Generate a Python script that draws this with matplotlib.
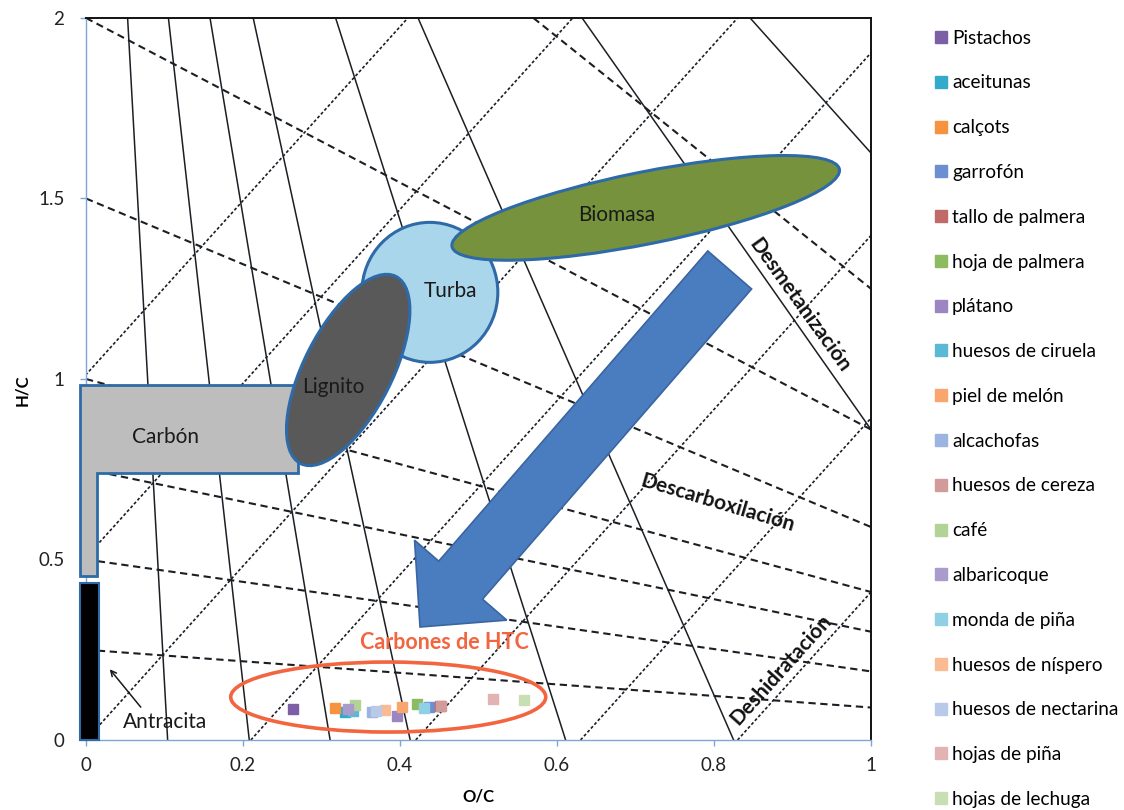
import numpy as np
import matplotlib
matplotlib.use("Agg")
import matplotlib.pyplot as plt
from matplotlib.patches import Polygon, Ellipse, Rectangle
from matplotlib.transforms import IdentityTransform
from matplotlib.lines import Line2D

plt.rcParams['font.family'] = ['Lato', 'DejaVu Sans']

# ---------------- HTC chars: atomic ratios ----------------
samples = ["Pistachos", "aceitunas", "calçots", "garrofón", "tallo de palmera",
           "hoja de palmera", "plátano", "huesos de ciruela", "piel de melón",
           "alcachofas", "huesos de cereza", "café", "albaricoque",
           "monda de piña", "huesos de níspero", "huesos de nectarina",
           "hojas de piña", "hojas de lechuga"]
oc = [0.264, 0.330, 0.317, 0.437, 0.451, 0.422, 0.396, 0.340, 0.403,
      0.364, 0.452, 0.343, 0.334, 0.430, 0.381, 0.370, 0.518, 0.558]
hc = [0.086, 0.078, 0.089, 0.091, 0.094, 0.100, 0.066, 0.080, 0.091,
      0.078, 0.094, 0.097, 0.086, 0.090, 0.083, 0.080, 0.113, 0.111]
colors = ["#7d5fa6", "#33a9cc", "#f7923f", "#6b8fd0", "#c06a6a", "#8dbb5f",
          "#9b86c2", "#5bb9d6", "#f9a56e", "#9db4e0", "#d39a9a", "#b3d296",
          "#a99bcb", "#8fd0e4", "#fbbb92", "#b9c9ea", "#e3b3b3", "#c8dfb3"]

# ---------------- reaction guide lines ----------------
# demethanation lines (solid): O/C at H/C = 2 and at H/C = 0
demeth_top_oc = [0.053, 0.105, 0.158, 0.213, 0.318, 0.423]
demeth_bottom_oc = [0.104, 0.208, 0.311, 0.413, 0.611, 0.825]
# solid lines from the top edge to the right edge
upper_top_oc = [0.632, 0.846]
upper_right_hc = [0.86, 1.626]
# decarboxylation lines (dashed): start point and H/C at O/C = 1
decarb_start = [(0.0, 2.0), (0.0, 1.5), (0.0, 1.0), (0.0, 0.75), (0.0, 0.5), (0.0, 0.25), (0.57, 2.0)]
decarb_end_hc = [0.86, 0.59, 0.41, 0.30, 0.19, 0.09, 1.25]
# dehydration lines (dotted): O/C at H/C = 0 and at H/C = 2
dehyd_bottom_oc = [-0.42, -0.21, 0.0, 0.21, 0.42, 0.63, 0.83]
dehyd_top_oc = [0.41, 0.62, 0.83, 1.04, 1.25, 1.46, 1.66]

# ---------------- fuel regions ----------------
carbon_outline = [(-0.008, 0.983), (0.27, 0.983), (0.27, 0.74), (0.014, 0.74),
                  (0.014, 0.455), (-0.008, 0.455)]
anthracite_oc = (-0.008, 0.016)
anthracite_hc = (0.0, 0.435)
lignite_center = (0.334, 1.025)
peat_center = (0.438, 1.24)
biomass_center = (0.713, 1.474)
htc_center = (0.385, 0.119)
arrow_tail = (0.820, 1.302)
arrow_tip = (0.4255, 0.313)

fig = plt.figure(figsize=(11.24, 8.10), dpi=100)
ax = fig.add_axes([86 / 1124, 1 - 740 / 810, 785 / 1124, 722 / 810])
ax.set_xlim(0, 1)
ax.set_ylim(0, 2)
ax.set_autoscale_on(False)

line_col = "#1b1f24"
for xt, xb in zip(demeth_top_oc, demeth_bottom_oc):
    ax.plot([xt, xb], [2, 0], color=line_col, lw=1.1, zorder=1)
for xt, yr in zip(upper_top_oc, upper_right_hc):
    ax.plot([xt, 1], [2, yr], color=line_col, lw=1.1, zorder=1)
for (x0, y0), y1 in zip(decarb_start, decarb_end_hc):
    ax.plot([x0, 1], [y0, y1], color=line_col, lw=1.5, ls=(0, (3.5, 2.2)), zorder=1)
for xb, xt in zip(dehyd_bottom_oc, dehyd_top_oc):
    ax.plot([xb, xt], [0, 2], color=line_col, lw=1.2, ls=(0, (1.8, 1.3)), zorder=1)

edge_blue = "#2f6aa8"


def disp(pt):
    return ax.transData.transform(pt)


def px_ellipse(center, w, h, angle, **kw):
    e = Ellipse(disp(center), w, h, angle=angle, transform=IdentityTransform(),
                clip_on=False, **kw)
    ax.add_patch(e)
    return e


# Carbón region
ax.add_patch(Polygon(carbon_outline, closed=True, facecolor="#bdbdbd",
                     edgecolor=edge_blue, lw=2.0, zorder=3, clip_on=False))
# Antracita bar
ax.add_patch(Rectangle((anthracite_oc[0], anthracite_hc[0]),
                       anthracite_oc[1] - anthracite_oc[0],
                       anthracite_hc[1] - anthracite_hc[0],
                       facecolor="black", edgecolor=edge_blue, lw=1.5, zorder=3, clip_on=False))

# Turba, Biomasa, Lignito
px_ellipse(peat_center, 136, 140, 0, facecolor="#a9d6ea", edgecolor=edge_blue, lw=2.2, zorder=3)
px_ellipse(biomass_center, 395, 72, 11.3, facecolor="#76923c", edgecolor=edge_blue, lw=2.2, zorder=4)
px_ellipse(lignite_center, 210, 88, 63, facecolor="#595959", edgecolor=edge_blue, lw=2.2, zorder=5)

# HTC chars ellipse
px_ellipse(htc_center, 315, 70, 0, facecolor="none", edgecolor="#f2653f", lw=2.6, zorder=6)

# big block arrow
T = disp(arrow_tail)
P = disp(arrow_tip)
u = (P - T) / np.hypot(*(P - T))
n = np.array([-u[1], u[0]])
shaft, head, head_len = 29, 61, 62
B = P - head_len * u
arrow_pts = [T + shaft * n, B + shaft * n, B + head * n, P, B - head * n, B - shaft * n, T - shaft * n]
ax.add_patch(Polygon(arrow_pts, closed=True, transform=IdentityTransform(), clip_on=False,
                     facecolor="#4a7cc0", edgecolor="#3a65a0", lw=1.2, zorder=6))

# HTC samples
for name, x, y, c in zip(samples, oc, hc, colors):
    ax.plot([x], [y], marker="s", ms=7, color=c, mec=c, ls="none", zorder=7, label=name)

# region labels
lab_kw = dict(ha="center", va="center", fontsize=15, color="#1a1a1a", zorder=8)
ax.text(0.676, 1.454, "Biomasa", **lab_kw)
ax.text(0.464, 1.244, "Turba", **lab_kw)
ax.text(0.315, 0.978, "Lignito", **lab_kw)
ax.text(0.101, 0.839, "Carbón", **lab_kw)
ax.text(0.101, 0.050, "Antracita", **lab_kw)
ax.annotate("", xy=(0.028, 0.202), xytext=(0.072, 0.085),
            arrowprops=dict(arrowstyle="->", color="#1a1a1a", lw=1.1), zorder=8)
ax.text(0.457, 0.269, "Carbones de HTC", ha="center", va="center", fontsize=15.5,
        fontweight="bold", color="#f2653f", zorder=8)

rx_kw = dict(ha="center", va="center", fontsize=15, fontweight="bold", color="#111111", zorder=8)
ax.text(0.909, 1.205, "Desmetanización", rotation=-54.4, rotation_mode="anchor", **rx_kw)
ax.text(0.805, 0.655, "Descarboxilación", rotation=-16.6, rotation_mode="anchor", **rx_kw)
ax.text(0.885, 0.194, "Deshidratación", rotation=48, rotation_mode="anchor", **rx_kw)

# axes styling
for side in ("left", "bottom"):
    ax.spines[side].set_color("#7ea6d3")
    ax.spines[side].set_linewidth(1.0)
for side in ("top", "right"):
    ax.spines[side].set_color("#111111")
    ax.spines[side].set_linewidth(1.4)
ax.set_xticks([0, 0.2, 0.4, 0.6, 0.8, 1.0])
ax.set_xticklabels(["0", "0.2", "0.4", "0.6", "0.8", "1"])
ax.set_yticks([0, 0.5, 1.0, 1.5, 2.0])
ax.set_yticklabels(["0", "0.5", "1", "1.5", "2"])
ax.tick_params(axis="both", direction="out", length=4.5, width=1, color="#7ea6d3",
               labelsize=13.5, labelcolor="#222222", pad=8)
ax.tick_params(axis="y", pad=11)
ax.set_xlabel("O/C", fontsize=12, fontweight="bold", labelpad=10)
ax.set_ylabel("H/C", fontsize=12, fontweight="bold")
ax.yaxis.set_label_coords(-0.071, 0.485)

handles = [Line2D([], [], marker="s", ms=8, color=c, ls="none") for c in colors]
fig.legend(handles, samples, loc="upper left", bbox_to_anchor=(927 / 1124, 1 - 22 / 810),
           frameon=False, fontsize=13.7, handlelength=0.7, handletextpad=0.22,
           labelspacing=1.46, borderaxespad=0)

fig.savefig("out.png", dpi=100)
